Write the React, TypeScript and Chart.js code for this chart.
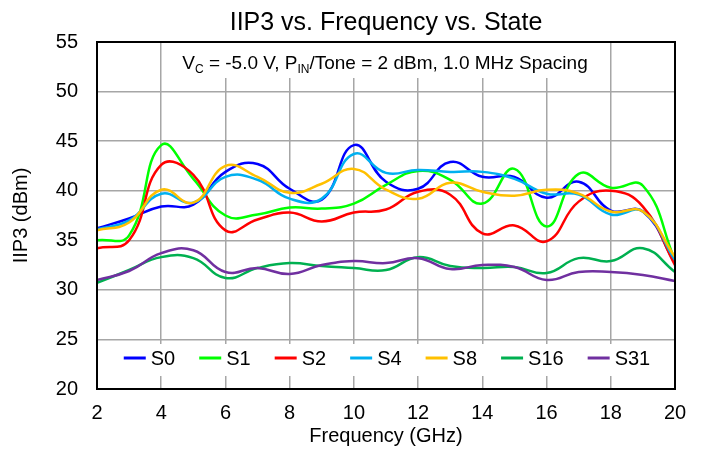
import React, { useEffect, useRef } from "react";
import { Chart, registerables } from "chart.js";

Chart.register(...registerables);

const FONT = "'Liberation Sans', Arial, Helvetica, sans-serif";

// Frequency points (GHz)
const freqs = [2, 3, 4, 5, 6, 7, 8, 9, 10, 11, 12, 13, 14, 15, 16, 17, 18, 19, 20];

// IIP3 (dBm) per state
const s0 = [36.2, 37.2, 38.4, 38.6, 41.9, 42.7, 40.2, 39.1, 44.6, 40.9, 40.2, 42.9, 41.4, 41.4, 39.3, 40.9, 38.0, 37.9, 32.7];
const s1 = [35.0, 35.5, 44.6, 41.2, 37.5, 37.6, 38.3, 38.2, 38.7, 40.6, 42.0, 41.1, 38.7, 42.2, 36.4, 41.7, 40.3, 40.5, 33.0];
const s2 = [34.2, 35.0, 42.6, 41.6, 36.0, 37.1, 37.8, 36.9, 37.8, 38.1, 39.9, 39.6, 35.7, 36.5, 34.9, 38.9, 40.0, 38.4, 32.5];
const s4 = [36.1, 37.0, 39.7, 38.8, 41.4, 41.1, 39.2, 39.2, 43.7, 41.8, 42.1, 41.9, 41.9, 41.2, 39.7, 39.6, 37.6, 37.9, 33.0];
const s8 = [36.0, 36.8, 40.1, 38.8, 42.5, 41.4, 39.8, 40.7, 42.2, 40.1, 39.2, 40.8, 39.9, 39.5, 40.1, 39.7, 37.9, 37.9, 33.3];
const s16 = [30.7, 32.0, 33.3, 33.2, 31.2, 32.2, 32.7, 32.4, 32.2, 32.0, 33.3, 32.4, 32.2, 32.3, 31.7, 33.2, 32.9, 34.2, 31.8];
const s31 = [31.0, 31.9, 33.7, 34.0, 31.8, 32.2, 31.6, 32.5, 32.9, 32.7, 33.2, 32.1, 32.5, 32.3, 31.0, 31.8, 31.8, 31.5, 30.9];

const seriesNames = ["S0", "S1", "S2", "S4", "S8", "S16", "S31"];
const seriesValues = [s0, s1, s2, s4, s8, s16, s31];
const seriesColors = ["#0000ff", "#00ff00", "#ff0000", "#00b0f0", "#ffc000", "#00b050", "#7030a0"];

const titleText = "IIP3 vs. Frequency vs. State";
const xTitle = "Frequency (GHz)";
const yTitle = "IIP3 (dBm)";
const subtitleParts: { t: string; sub: boolean }[] = [
  { t: "V", sub: false },
  { t: "C", sub: true },
  { t: " = -5.0 V, P", sub: false },
  { t: "IN", sub: true },
  { t: "/Tone = 2 dBm, 1.0 MHz Spacing", sub: false },
];

const xMin = 2, xMax = 20, xStep = 2;
const yMin = 20, yMax = 55, yStep = 5;

const overlayPlugin = {
  id: "overlay",
  beforeDatasetsDraw(chart: any) {
    const { ctx, chartArea: a } = chart;
    const cx = (a.left + a.right) / 2;
    ctx.save();
    // Title
    ctx.fillStyle = "#000";
    ctx.font = `25px ${FONT}`;
    ctx.textAlign = "center";
    ctx.textBaseline = "alphabetic";
    ctx.fillText(titleText, cx, 30);

    // Subtitle with subscripts
    const mainFont = `19px ${FONT}`;
    const subFont = `12px ${FONT}`;
    let total = 0;
    const widths: number[] = [];
    for (const p of subtitleParts) {
      ctx.font = p.sub ? subFont : mainFont;
      const w = ctx.measureText(p.t).width;
      widths.push(w);
      total += w;
    }
    const sx0 = cx - total / 2 - 1;
    ctx.fillStyle = "#fff";
    ctx.fillRect(sx0 - 7, a.top + 1, total + 14, 35);
    ctx.fillStyle = "#000";
    ctx.textAlign = "left";
    let x = sx0;
    const base = a.top + 27;
    subtitleParts.forEach((p, i) => {
      ctx.font = p.sub ? subFont : mainFont;
      ctx.fillText(p.t, x, p.sub ? base + 4 : base);
      x += widths[i];
    });

    // Legend inside plot
    ctx.font = `20px ${FONT}`;
    const lineLen = 22, gapLT = 5, gapItem = 24;
    const tw = seriesNames.map((n) => ctx.measureText(n).width);
    let lw = 0;
    tw.forEach((w, i) => {
      lw += lineLen + gapLT + w + (i < tw.length - 1 ? gapItem : 0);
    });
    const lx0 = cx - lw / 2 + 1;
    const ly = a.bottom - 31;
    ctx.fillStyle = "#fff";
    ctx.fillRect(lx0 - 12, a.bottom - 45, lw + 24, 32);
    let lx = lx0;
    ctx.textBaseline = "middle";
    seriesNames.forEach((n, i) => {
      ctx.strokeStyle = seriesColors[i];
      ctx.lineWidth = 3;
      ctx.beginPath();
      ctx.moveTo(lx, ly);
      ctx.lineTo(lx + lineLen, ly);
      ctx.stroke();
      ctx.fillStyle = "#000";
      ctx.fillText(n, lx + lineLen + gapLT, ly + 1);
      lx += lineLen + gapLT + tw[i] + gapItem;
    });
    ctx.restore();
  },
  afterDatasetsDraw(chart: any) {
    const { ctx, chartArea: a } = chart;
    ctx.save();
    ctx.strokeStyle = "#000";
    ctx.lineWidth = 2;
    ctx.strokeRect(a.left, a.top, a.right - a.left, a.bottom - a.top);
    ctx.restore();
  },
};

export default function App() {
  const ref = useRef<HTMLCanvasElement | null>(null);
  useEffect(() => {
    if (!ref.current) return;
    const datasets = seriesNames.map((name, i) => ({
      label: name,
      data: freqs.map((f, j) => ({ x: f, y: seriesValues[i][j] })),
      borderColor: seriesColors[i],
      backgroundColor: seriesColors[i],
      borderWidth: 2.5,
      pointRadius: 0,
      tension: 0.45,
      fill: false,
      order: seriesNames.length - i,
    }));
    const chart = new Chart(ref.current, {
      type: "line",
      data: { datasets },
      options: {
        responsive: false,
        animation: false,
        layout: { padding: { top: 42, right: 27, left: 0, bottom: 0 } },
        plugins: { legend: { display: false }, title: { display: false }, tooltip: { enabled: false } },
        scales: {
          x: {
            type: "linear",
            min: xMin,
            max: xMax,
            ticks: { stepSize: xStep, color: "#000", font: { family: FONT, size: 20 }, padding: 12, maxRotation: 0 },
            grid: { color: "#a6a6a6", lineWidth: 1.5, drawTicks: false },
            border: { display: false },
            title: { display: true, text: xTitle, color: "#000", font: { family: FONT, size: 20 }, padding: { top: 0, bottom: 3 } },
            afterFit: (s: any) => { s.height = 62; },
          },
          y: {
            min: yMin,
            max: yMax,
            ticks: { stepSize: yStep, color: "#000", font: { family: FONT, size: 20 }, padding: 19 },
            grid: { color: "#a6a6a6", lineWidth: 1.5, drawTicks: false },
            border: { display: false },
            title: { display: true, text: yTitle, color: "#000", font: { family: FONT, size: 20 }, padding: { top: 9, bottom: 0 } },
            afterFit: (s: any) => { s.width = 97; },
          },
        },
      },
      plugins: [overlayPlugin],
    });
    return () => chart.destroy();
  }, []);
  return (
    <div style={{ position: "absolute", left: 0, top: 0, width: 702, height: 451, background: "#fff" }}>
      <canvas ref={ref} width={702} height={451} style={{ display: "block" }} />
    </div>
  );
}
